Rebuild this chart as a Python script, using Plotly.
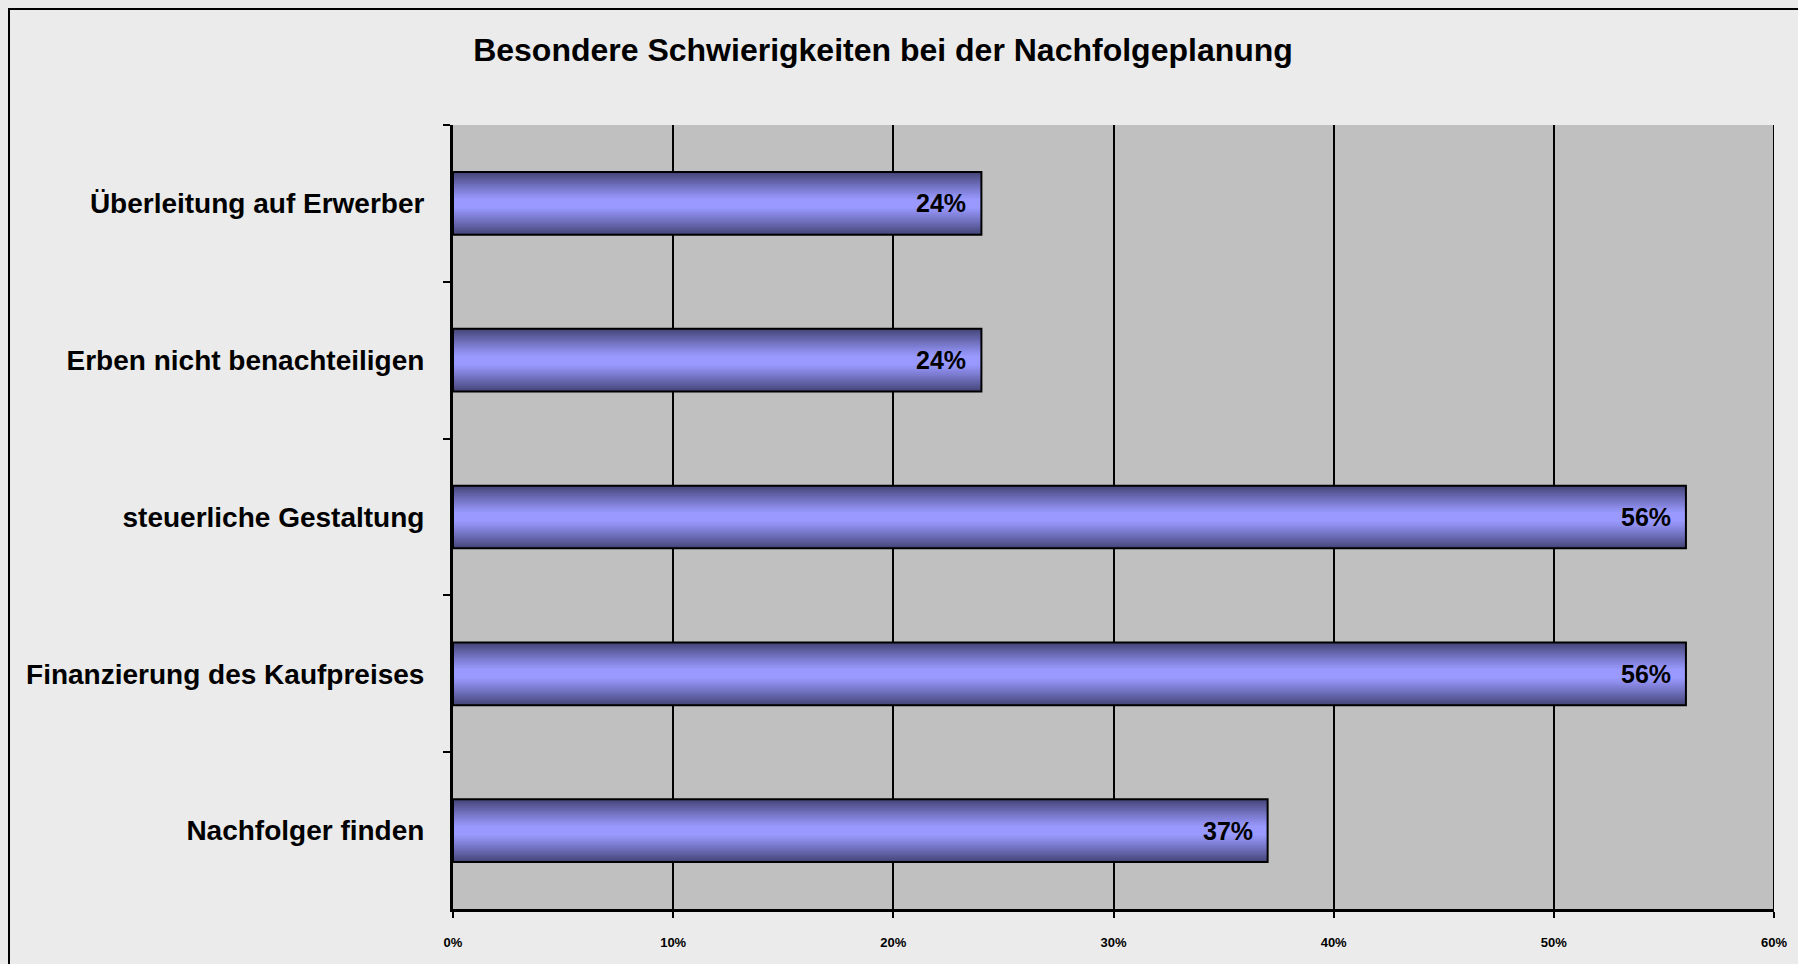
import plotly.graph_objects as go

categories = ["Überleitung auf Erwerber", "Erben nicht benachteiligen", "steuerliche Gestaltung",
              "Finanzierung des Kaufpreises", "Nachfolger finden"]
values = [24, 24, 56, 56, 37]
labels = ["24%", "24%", "56%", "56%", "37%"]
x_ticks = [0, 10, 20, 30, 40, 50, 60]
x_tick_labels = ["0%", "10%", "20%", "30%", "40%", "50%", "60%"]

W, H = 1798, 964
L, R, T, B = 453, 24, 125, 55
FONT = "Liberation Sans, Arial, sans-serif"

BAR_W = 0.4
N = 18
edge = (70, 70, 122)
light = (153, 153, 255)

fig = go.Figure()
for k in range(N):
    f = 1 - k / N              # 1 at edge, ->0 at centre
    t = min(1.0, max(0.0, (f - 0.15) / 0.85)) ** 1.1
    c = tuple(round(light[i] + (edge[i] - light[i]) * t) for i in range(3))
    fig.add_trace(go.Bar(
        y=categories, x=values, orientation="h", width=BAR_W * f,
        marker=dict(color="rgb(%d,%d,%d)" % c, line=dict(width=0)),
        hoverinfo="skip", showlegend=False))

fig.add_trace(go.Bar(
    y=categories, x=values, orientation="h", width=BAR_W,
    marker=dict(color="rgba(0,0,0,0)", line=dict(color="black", width=2)),
    showlegend=False))

for cat, v, lab in zip(categories, values, labels):
    fig.add_annotation(x=v, y=cat, text=lab, showarrow=False, xanchor="right",
                       xshift=-13, font=dict(family=FONT, size=25, color="black", weight="bold"))

pw, ph = W - L - R, H - T - B
fig.add_shape(type="rect", xref="paper", yref="paper",
              x0=(9 - L) / pw, x1=1.2,
              y0=-0.3, y1=1 + (T - 9) / ph,
              line=dict(color="black", width=2), fillcolor="rgba(0,0,0,0)", layer="below")
fig.add_shape(type="line", xref="x", yref="paper", x0=60, x1=60, y0=0, y1=1,
              line=dict(color="black", width=2))

fig.update_layout(
    width=W, height=H,
    margin=dict(l=L, r=R, t=T, b=B),
    barmode="overlay",
    paper_bgcolor="#EBEBEB",
    plot_bgcolor="#C0C0C0",
    title=dict(text="Besondere Schwierigkeiten bei der Nachfolgeplanung",
               x=883 / W, xref="container", xanchor="center",
               y=1 - 50 / H, yref="container", yanchor="middle",
               font=dict(family=FONT, size=32, color="black", weight="bold")),
    xaxis=dict(range=[0, 60], tickvals=x_ticks, ticktext=x_tick_labels,
               showgrid=True, gridcolor="black", gridwidth=2,
               showline=True, linecolor="black", linewidth=3,
               ticks="outside", ticklen=6, tickwidth=2, tickcolor="black",
               ticklabelstandoff=13, zeroline=False,
               tickfont=dict(family=FONT, size=13, color="black", weight="bold")),
    yaxis=dict(autorange="reversed", showgrid=False, tickson="boundaries",
               showline=True, linecolor="black", linewidth=3,
               ticks="outside", ticklen=7, tickwidth=2, tickcolor="black",
               ticklabelstandoff=20,
               tickfont=dict(family=FONT, size=28, color="black", weight="bold")),
)

fig.write_html(
    "out.html",
    config={"displayModeBar": False},
    post_script="document.body.style.margin='0';document.body.style.overflow='hidden';"
                "document.body.style.background='#EBEBEB';",
)
